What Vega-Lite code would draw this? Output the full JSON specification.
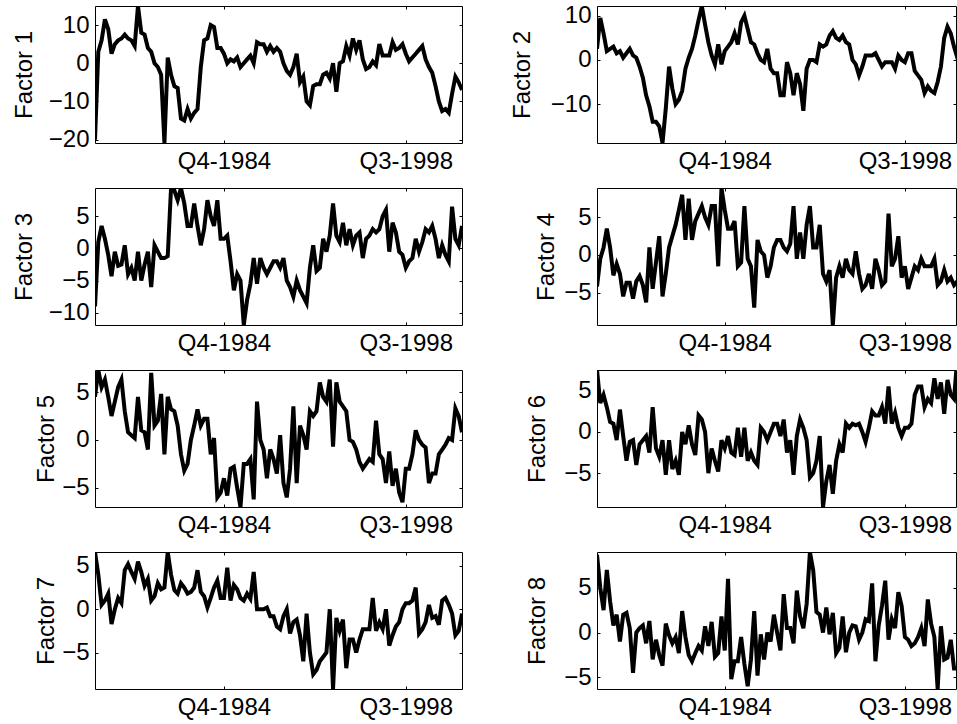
{
"$schema": "https://vega.github.io/schema/vega-lite/v6.json",
"padding": {"left": 11, "top": 3, "right": 0, "bottom": 0},
"background": "white",
"columns": 2,
"spacing": {"row": 45, "column": 135},
"bounds": "flush",
"datasets": {
"f1": [{"t":1,"v":-20},{"t":2,"v":3},{"t":3,"v":6},{"t":4,"v":11.5},{"t":5,"v":9},{"t":6,"v":2.5},{"t":7,"v":5},{"t":8,"v":6},{"t":9,"v":6.5},{"t":10,"v":7.5},{"t":11,"v":6.5},{"t":12,"v":6},{"t":13,"v":4.5},{"t":14,"v":15},{"t":15,"v":8},{"t":16,"v":7.5},{"t":17,"v":4},{"t":18,"v":3},{"t":19,"v":0},{"t":20,"v":-1},{"t":21,"v":-3},{"t":22,"v":-20.9},{"t":23,"v":1.5},{"t":24,"v":-3},{"t":25,"v":-6},{"t":26,"v":-6.5},{"t":27,"v":-14.5},{"t":28,"v":-15},{"t":29,"v":-12},{"t":30,"v":-14.5},{"t":31,"v":-13},{"t":32,"v":-12},{"t":33,"v":-1},{"t":34,"v":6},{"t":35,"v":6.5},{"t":36,"v":10},{"t":37,"v":9.5},{"t":38,"v":4},{"t":39,"v":4},{"t":40,"v":2.5},{"t":41,"v":0},{"t":42,"v":1},{"t":43,"v":0.5},{"t":44,"v":1.5},{"t":45,"v":-1},{"t":46,"v":0},{"t":47,"v":1},{"t":48,"v":2},{"t":49,"v":0},{"t":50,"v":5.5},{"t":51,"v":5},{"t":52,"v":5},{"t":53,"v":3},{"t":54,"v":4.5},{"t":55,"v":3},{"t":56,"v":4},{"t":57,"v":3},{"t":58,"v":0},{"t":59,"v":-2},{"t":60,"v":-3},{"t":61,"v":-1},{"t":62,"v":2.5},{"t":63,"v":-5},{"t":64,"v":-3.5},{"t":65,"v":-10},{"t":66,"v":-11},{"t":67,"v":-6},{"t":68,"v":-5.5},{"t":69,"v":-5.5},{"t":70,"v":-3},{"t":71,"v":-2.5},{"t":72,"v":-4},{"t":73,"v":0},{"t":74,"v":-7.5},{"t":75,"v":0},{"t":76,"v":0.5},{"t":77,"v":4.5},{"t":78,"v":2},{"t":79,"v":6.5},{"t":80,"v":3.5},{"t":81,"v":6},{"t":82,"v":1},{"t":83,"v":-1.5},{"t":84,"v":-1},{"t":85,"v":0.5},{"t":86,"v":-0.5},{"t":87,"v":5},{"t":88,"v":2},{"t":89,"v":2},{"t":90,"v":2},{"t":91,"v":5.5},{"t":92,"v":3.5},{"t":93,"v":4},{"t":94,"v":5},{"t":95,"v":2.5},{"t":96,"v":0.5},{"t":97,"v":1.5},{"t":98,"v":2.5},{"t":99,"v":3.5},{"t":100,"v":4.5},{"t":101,"v":1},{"t":102,"v":-1},{"t":103,"v":-2.5},{"t":104,"v":-6},{"t":105,"v":-10},{"t":106,"v":-12.5},{"t":107,"v":-12},{"t":108,"v":-13},{"t":109,"v":-8},{"t":110,"v":-3.5},{"t":111,"v":-5},{"t":112,"v":-7}],
"f2": [{"t":1,"v":2.5},{"t":2,"v":9.5},{"t":3,"v":6},{"t":4,"v":2},{"t":5,"v":2.5},{"t":6,"v":3},{"t":7,"v":1.5},{"t":8,"v":2},{"t":9,"v":0.5},{"t":10,"v":1.5},{"t":11,"v":2.5},{"t":12,"v":1},{"t":13,"v":0.5},{"t":14,"v":-1.5},{"t":15,"v":-4},{"t":16,"v":-8},{"t":17,"v":-10.5},{"t":18,"v":-14},{"t":19,"v":-14},{"t":20,"v":-15},{"t":21,"v":-18.8},{"t":22,"v":-11},{"t":23,"v":-1.5},{"t":24,"v":-6.5},{"t":25,"v":-10},{"t":26,"v":-9},{"t":27,"v":-7},{"t":28,"v":-2},{"t":29,"v":0.5},{"t":30,"v":2.5},{"t":31,"v":5.5},{"t":32,"v":9},{"t":33,"v":12.2},{"t":34,"v":8},{"t":35,"v":4},{"t":36,"v":1},{"t":37,"v":-1},{"t":38,"v":3.5},{"t":39,"v":-1},{"t":40,"v":2},{"t":41,"v":3},{"t":42,"v":4},{"t":43,"v":6},{"t":44,"v":3.5},{"t":45,"v":8.5},{"t":46,"v":10},{"t":47,"v":7},{"t":48,"v":4},{"t":49,"v":3.5},{"t":50,"v":1.5},{"t":51,"v":0},{"t":52,"v":-0.5},{"t":53,"v":2.5},{"t":54,"v":-2},{"t":55,"v":-3},{"t":56,"v":-3},{"t":57,"v":-8},{"t":58,"v":-8},{"t":59,"v":-0.5},{"t":60,"v":-3},{"t":61,"v":-8},{"t":62,"v":-3},{"t":63,"v":-5.5},{"t":64,"v":-11.5},{"t":65,"v":-2},{"t":66,"v":0},{"t":67,"v":0},{"t":68,"v":-0.5},{"t":69,"v":3.5},{"t":70,"v":3},{"t":71,"v":3.5},{"t":72,"v":5.5},{"t":73,"v":6.5},{"t":74,"v":5},{"t":75,"v":4.5},{"t":76,"v":5.5},{"t":77,"v":4},{"t":78,"v":3.5},{"t":79,"v":0},{"t":80,"v":-1},{"t":81,"v":-3.5},{"t":82,"v":-1.5},{"t":83,"v":1},{"t":84,"v":1},{"t":85,"v":1},{"t":86,"v":1.5},{"t":87,"v":0},{"t":88,"v":-1.5},{"t":89,"v":-0.5},{"t":90,"v":-0.5},{"t":91,"v":-0.5},{"t":92,"v":-2},{"t":93,"v":1},{"t":94,"v":0},{"t":95,"v":-0.5},{"t":96,"v":1.5},{"t":97,"v":1.5},{"t":98,"v":-2.5},{"t":99,"v":-3.5},{"t":100,"v":-4.5},{"t":101,"v":-7.5},{"t":102,"v":-6},{"t":103,"v":-7},{"t":104,"v":-7.5},{"t":105,"v":-5},{"t":106,"v":-1.5},{"t":107,"v":5},{"t":108,"v":7.5},{"t":109,"v":6},{"t":110,"v":3},{"t":111,"v":0.5},{"t":112,"v":1}],
"f3": [{"t":1,"v":-9},{"t":2,"v":1},{"t":3,"v":3.5},{"t":4,"v":1.5},{"t":5,"v":-1},{"t":6,"v":-4.3},{"t":7,"v":-0.5},{"t":8,"v":-2.7},{"t":9,"v":-2.5},{"t":10,"v":0.5},{"t":11,"v":-4},{"t":12,"v":-3},{"t":13,"v":-5},{"t":14,"v":-0.5},{"t":15,"v":-5},{"t":16,"v":-2.5},{"t":17,"v":-0.5},{"t":18,"v":-6},{"t":19,"v":0.5},{"t":20,"v":-0.5},{"t":21,"v":-1.5},{"t":22,"v":-1.5},{"t":23,"v":-1.2},{"t":24,"v":9.4},{"t":25,"v":9},{"t":26,"v":7.5},{"t":27,"v":9.4},{"t":28,"v":7},{"t":29,"v":3.5},{"t":30,"v":3.5},{"t":31,"v":7},{"t":32,"v":3.5},{"t":33,"v":0.5},{"t":34,"v":3},{"t":35,"v":7.5},{"t":36,"v":5},{"t":37,"v":3.5},{"t":38,"v":7.5},{"t":39,"v":1.5},{"t":40,"v":1.5},{"t":41,"v":2},{"t":42,"v":-2},{"t":43,"v":-6.5},{"t":44,"v":-4},{"t":45,"v":-5},{"t":46,"v":-11.9},{"t":47,"v":-8},{"t":48,"v":-5.5},{"t":49,"v":-1.5},{"t":50,"v":-5.5},{"t":51,"v":-1.5},{"t":52,"v":-3},{"t":53,"v":-4},{"t":54,"v":-3},{"t":55,"v":-2},{"t":56,"v":-2},{"t":57,"v":-3},{"t":58,"v":-1.5},{"t":59,"v":-5},{"t":60,"v":-6},{"t":61,"v":-7.5},{"t":62,"v":-5},{"t":63,"v":-6.5},{"t":64,"v":-7.5},{"t":65,"v":-8.5},{"t":66,"v":-3},{"t":67,"v":0.5},{"t":68,"v":-3.5},{"t":69,"v":-3},{"t":70,"v":1.5},{"t":71,"v":-0.5},{"t":72,"v":2},{"t":73,"v":7},{"t":74,"v":2},{"t":75,"v":1},{"t":76,"v":4},{"t":77,"v":0.5},{"t":78,"v":3},{"t":79,"v":0.5},{"t":80,"v":2},{"t":81,"v":2.5},{"t":82,"v":-1.5},{"t":83,"v":1.5},{"t":84,"v":2},{"t":85,"v":3},{"t":86,"v":2.5},{"t":87,"v":3},{"t":88,"v":5},{"t":89,"v":6},{"t":90,"v":-0.5},{"t":91,"v":4},{"t":92,"v":2.5},{"t":93,"v":-0.5},{"t":94,"v":-1},{"t":95,"v":-3},{"t":96,"v":-2},{"t":97,"v":-1.5},{"t":98,"v":1.5},{"t":99,"v":-0.5},{"t":100,"v":1},{"t":101,"v":3},{"t":102,"v":2.5},{"t":103,"v":3.5},{"t":104,"v":1.5},{"t":105,"v":-1.5},{"t":106,"v":0.5},{"t":107,"v":-1},{"t":108,"v":-2},{"t":109,"v":6.5},{"t":110,"v":1.5},{"t":111,"v":0.5},{"t":112,"v":3.5}],
"f4": [{"t":1,"v":-4.2},{"t":2,"v":-0.5},{"t":3,"v":1},{"t":4,"v":3.5},{"t":5,"v":1},{"t":6,"v":-2.7},{"t":7,"v":-1.2},{"t":8,"v":-2.5},{"t":9,"v":-5.5},{"t":10,"v":-3.7},{"t":11,"v":-3.7},{"t":12,"v":-5.8},{"t":13,"v":-3.5},{"t":14,"v":-2.8},{"t":15,"v":-4},{"t":16,"v":-6.3},{"t":17,"v":1},{"t":18,"v":-4.5},{"t":19,"v":-1},{"t":20,"v":2.5},{"t":21,"v":-5.5},{"t":22,"v":-2.5},{"t":23,"v":1},{"t":24,"v":2.5},{"t":25,"v":4},{"t":26,"v":6},{"t":27,"v":8},{"t":28,"v":2},{"t":29,"v":7.5},{"t":30,"v":2},{"t":31,"v":4.5},{"t":32,"v":5.5},{"t":33,"v":6.5},{"t":34,"v":5},{"t":35,"v":4},{"t":36,"v":6.5},{"t":37,"v":6.5},{"t":38,"v":-1.5},{"t":39,"v":8.9},{"t":40,"v":6},{"t":41,"v":3.5},{"t":42,"v":3.5},{"t":43,"v":4.5},{"t":44,"v":-1.5},{"t":45,"v":-1},{"t":46,"v":6.5},{"t":47,"v":-0.5},{"t":48,"v":-1.5},{"t":49,"v":-7},{"t":50,"v":2},{"t":51,"v":0.5},{"t":52,"v":0},{"t":53,"v":-3},{"t":54,"v":-1.5},{"t":55,"v":1},{"t":56,"v":2},{"t":57,"v":2},{"t":58,"v":1},{"t":59,"v":0.5},{"t":60,"v":1.5},{"t":61,"v":6.5},{"t":62,"v":-0.5},{"t":63,"v":3},{"t":64,"v":-0.5},{"t":65,"v":4},{"t":66,"v":6.5},{"t":67,"v":1},{"t":68,"v":1},{"t":69,"v":4},{"t":70,"v":-2.5},{"t":71,"v":-3.5},{"t":72,"v":-2},{"t":73,"v":-9.3},{"t":74,"v":-3},{"t":75,"v":-1.5},{"t":76,"v":-3},{"t":77,"v":-0.5},{"t":78,"v":-2},{"t":79,"v":-2.5},{"t":80,"v":0.5},{"t":81,"v":-2.5},{"t":82,"v":-4.5},{"t":83,"v":-4},{"t":84,"v":-2.5},{"t":85,"v":-4.5},{"t":86,"v":-0.5},{"t":87,"v":-2},{"t":88,"v":-4},{"t":89,"v":-3.5},{"t":90,"v":5.5},{"t":91,"v":-1.5},{"t":92,"v":-0.5},{"t":93,"v":2.5},{"t":94,"v":-3},{"t":95,"v":-1.5},{"t":96,"v":-4.5},{"t":97,"v":-3},{"t":98,"v":-1.5},{"t":99,"v":-2},{"t":100,"v":-0.5},{"t":101,"v":-1.5},{"t":102,"v":-1.5},{"t":103,"v":-1.5},{"t":104,"v":-0.5},{"t":105,"v":-4},{"t":106,"v":-3.5},{"t":107,"v":-2},{"t":108,"v":-3.5},{"t":109,"v":-3},{"t":110,"v":-4},{"t":111,"v":-3.5},{"t":112,"v":-3}],
"f5": [{"t":1,"v":4.5},{"t":2,"v":7.3},{"t":3,"v":5.5},{"t":4,"v":6.3},{"t":5,"v":4.5},{"t":6,"v":2.5},{"t":7,"v":4},{"t":8,"v":5.5},{"t":9,"v":6.3},{"t":10,"v":3},{"t":11,"v":0.8},{"t":12,"v":0.5},{"t":13,"v":0.2},{"t":14,"v":4.5},{"t":15,"v":1},{"t":16,"v":0.8},{"t":17,"v":-1},{"t":18,"v":7},{"t":19,"v":1.5},{"t":20,"v":2},{"t":21,"v":4.8},{"t":22,"v":-1.5},{"t":23,"v":4.5},{"t":24,"v":3.2},{"t":25,"v":3},{"t":26,"v":1.5},{"t":27,"v":-1.5},{"t":28,"v":-3.2},{"t":29,"v":-2.5},{"t":30,"v":0},{"t":31,"v":1.5},{"t":32,"v":3.2},{"t":33,"v":1.5},{"t":34,"v":2.2},{"t":35,"v":2.2},{"t":36,"v":-1.5},{"t":37,"v":0.2},{"t":38,"v":-6},{"t":39,"v":-5.5},{"t":40,"v":-4},{"t":41,"v":-5.8},{"t":42,"v":-3},{"t":43,"v":-2.8},{"t":44,"v":-5},{"t":45,"v":-7},{"t":46,"v":-2.5},{"t":47,"v":-2.5},{"t":48,"v":-2},{"t":49,"v":-6.2},{"t":50,"v":4},{"t":51,"v":0},{"t":52,"v":-1},{"t":53,"v":-4},{"t":54,"v":-1},{"t":55,"v":-2},{"t":56,"v":-3.5},{"t":57,"v":0.5},{"t":58,"v":-4.5},{"t":59,"v":-6},{"t":60,"v":-3},{"t":61,"v":3.5},{"t":62,"v":-4.5},{"t":63,"v":1.5},{"t":64,"v":0.5},{"t":65,"v":-1},{"t":66,"v":3},{"t":67,"v":2.5},{"t":68,"v":3},{"t":69,"v":6},{"t":70,"v":4.5},{"t":71,"v":4},{"t":72,"v":6.3},{"t":73,"v":-0.7},{"t":74,"v":6},{"t":75,"v":4},{"t":76,"v":3.5},{"t":77,"v":3},{"t":78,"v":0},{"t":79,"v":-0.2},{"t":80,"v":-1},{"t":81,"v":-2.3},{"t":82,"v":-3},{"t":83,"v":-2.5},{"t":84,"v":-2},{"t":85,"v":-2.3},{"t":86,"v":2},{"t":87,"v":-1.5},{"t":88,"v":-2},{"t":89,"v":-4.5},{"t":90,"v":-1.2},{"t":91,"v":-4.8},{"t":92,"v":-3},{"t":93,"v":-5.5},{"t":94,"v":-6.5},{"t":95,"v":-3},{"t":96,"v":-3},{"t":97,"v":-1.5},{"t":98,"v":1},{"t":99,"v":0},{"t":100,"v":-0.5},{"t":101,"v":-0.8},{"t":102,"v":-4.5},{"t":103,"v":-3.5},{"t":104,"v":-3.5},{"t":105,"v":-1.5},{"t":106,"v":-1},{"t":107,"v":-0.5},{"t":108,"v":0.2},{"t":109,"v":0},{"t":110,"v":3.3},{"t":111,"v":2.5},{"t":112,"v":0.8}],
"f6": [{"t":1,"v":7.5},{"t":2,"v":3.5},{"t":3,"v":4.5},{"t":4,"v":3},{"t":5,"v":1.2},{"t":6,"v":1},{"t":7,"v":-1},{"t":8,"v":2.7},{"t":9,"v":-0.5},{"t":10,"v":-3.5},{"t":11,"v":-1.2},{"t":12,"v":-1},{"t":13,"v":-4},{"t":14,"v":-1.5},{"t":15,"v":-1},{"t":16,"v":-0.5},{"t":17,"v":-2.5},{"t":18,"v":3},{"t":19,"v":-2},{"t":20,"v":-3},{"t":21,"v":-1},{"t":22,"v":-5.2},{"t":23,"v":-1},{"t":24,"v":-4.5},{"t":25,"v":-3.5},{"t":26,"v":-5.2},{"t":27,"v":0},{"t":28,"v":-1.5},{"t":29,"v":0.8},{"t":30,"v":-1.5},{"t":31,"v":-2.8},{"t":32,"v":2},{"t":33,"v":1.5},{"t":34,"v":0},{"t":35,"v":-5},{"t":36,"v":-2},{"t":37,"v":-3.5},{"t":38,"v":-4.8},{"t":39,"v":-1},{"t":40,"v":-2},{"t":41,"v":-0.5},{"t":42,"v":-2.5},{"t":43,"v":-2.8},{"t":44,"v":0.5},{"t":45,"v":-3},{"t":46,"v":0.5},{"t":47,"v":-3.5},{"t":48,"v":-2.5},{"t":49,"v":-3.5},{"t":50,"v":-4},{"t":51,"v":0.5},{"t":52,"v":0},{"t":53,"v":-1},{"t":54,"v":0},{"t":55,"v":1},{"t":56,"v":1},{"t":57,"v":-0.5},{"t":58,"v":1.5},{"t":59,"v":-2.5},{"t":60,"v":-1},{"t":61,"v":-5.2},{"t":62,"v":-0.5},{"t":63,"v":1.5},{"t":64,"v":0.5},{"t":65,"v":-1},{"t":66,"v":-5.5},{"t":67,"v":-5},{"t":68,"v":-3.5},{"t":69,"v":-0.5},{"t":70,"v":-9.1},{"t":71,"v":-6},{"t":72,"v":-4},{"t":73,"v":-7.5},{"t":74,"v":-3.5},{"t":75,"v":-1.5},{"t":76,"v":-2.5},{"t":77,"v":1},{"t":78,"v":0.5},{"t":79,"v":1},{"t":80,"v":0.8},{"t":81,"v":1},{"t":82,"v":0},{"t":83,"v":-1.2},{"t":84,"v":0.5},{"t":85,"v":2.5},{"t":86,"v":2},{"t":87,"v":2},{"t":88,"v":3},{"t":89,"v":1},{"t":90,"v":5.5},{"t":91,"v":1},{"t":92,"v":2.3},{"t":93,"v":0.5},{"t":94,"v":-0.5},{"t":95,"v":0.5},{"t":96,"v":0.5},{"t":97,"v":1},{"t":98,"v":4.5},{"t":99,"v":5.5},{"t":100,"v":5.5},{"t":101,"v":3},{"t":102,"v":4},{"t":103,"v":3.5},{"t":104,"v":6.5},{"t":105,"v":4},{"t":106,"v":6},{"t":107,"v":2.2},{"t":108,"v":6.3},{"t":109,"v":4.5},{"t":110,"v":4},{"t":111,"v":9},{"t":112,"v":8}],
"f7": [{"t":1,"v":6.6},{"t":2,"v":4},{"t":3,"v":0.5},{"t":4,"v":1},{"t":5,"v":1.8},{"t":6,"v":-1.7},{"t":7,"v":0},{"t":8,"v":1.3},{"t":9,"v":0.7},{"t":10,"v":4.5},{"t":11,"v":5.2},{"t":12,"v":4.3},{"t":13,"v":3.5},{"t":14,"v":5.5},{"t":15,"v":4.3},{"t":16,"v":2.7},{"t":17,"v":3.5},{"t":18,"v":1},{"t":19,"v":1.5},{"t":20,"v":3},{"t":21,"v":2.3},{"t":22,"v":2.5},{"t":23,"v":6.6},{"t":24,"v":4},{"t":25,"v":2.2},{"t":26,"v":1.8},{"t":27,"v":3},{"t":28,"v":2.5},{"t":29,"v":1.8},{"t":30,"v":2},{"t":31,"v":2.5},{"t":32,"v":4.5},{"t":33,"v":2},{"t":34,"v":1.5},{"t":35,"v":0.2},{"t":36,"v":1.3},{"t":37,"v":2.5},{"t":38,"v":3.3},{"t":39,"v":1.3},{"t":40,"v":1.3},{"t":41,"v":4.8},{"t":42,"v":1},{"t":43,"v":2.8},{"t":44,"v":2.3},{"t":45,"v":1.3},{"t":46,"v":1},{"t":47,"v":1.8},{"t":48,"v":1.2},{"t":49,"v":4.3},{"t":50,"v":0},{"t":51,"v":0},{"t":52,"v":0},{"t":53,"v":0.2},{"t":54,"v":-0.8},{"t":55,"v":-0.8},{"t":56,"v":-2},{"t":57,"v":-2.3},{"t":58,"v":-0.8},{"t":59,"v":0},{"t":60,"v":-2.8},{"t":61,"v":-1.5},{"t":62,"v":-1.2},{"t":63,"v":-3},{"t":64,"v":-6},{"t":65,"v":-0.5},{"t":66,"v":-5},{"t":67,"v":-7.5},{"t":68,"v":-7},{"t":69,"v":-6},{"t":70,"v":-5.5},{"t":71,"v":-5},{"t":72,"v":0},{"t":73,"v":-9.2},{"t":74,"v":-1},{"t":75,"v":-2.5},{"t":76,"v":-1.2},{"t":77,"v":-6.8},{"t":78,"v":-3.5},{"t":79,"v":-3.5},{"t":80,"v":-5},{"t":81,"v":-3.5},{"t":82,"v":-2.3},{"t":83,"v":-2.3},{"t":84,"v":-2.3},{"t":85,"v":1.3},{"t":86,"v":-2.5},{"t":87,"v":-1.5},{"t":88,"v":-2.3},{"t":89,"v":0},{"t":90,"v":-4.2},{"t":91,"v":-3},{"t":92,"v":-2},{"t":93,"v":-1.5},{"t":94,"v":0},{"t":95,"v":0.7},{"t":96,"v":0.7},{"t":97,"v":1},{"t":98,"v":2.5},{"t":99,"v":-2.8},{"t":100,"v":-2.3},{"t":101,"v":-1.5},{"t":102,"v":0.5},{"t":103,"v":-1},{"t":104,"v":-0.8},{"t":105,"v":-1.8},{"t":106,"v":1},{"t":107,"v":1.3},{"t":108,"v":0.5},{"t":109,"v":-0.5},{"t":110,"v":-3},{"t":111,"v":-2.5},{"t":112,"v":-0.5}],
"f8": [{"t":1,"v":8.7},{"t":2,"v":5},{"t":3,"v":2.5},{"t":4,"v":7},{"t":5,"v":3.5},{"t":6,"v":0.8},{"t":7,"v":2},{"t":8,"v":-1},{"t":9,"v":2},{"t":10,"v":2.2},{"t":11,"v":0.5},{"t":12,"v":-4.5},{"t":13,"v":0},{"t":14,"v":0.5},{"t":15,"v":0.8},{"t":16,"v":-1.2},{"t":17,"v":1.3},{"t":18,"v":-3},{"t":19,"v":-0.8},{"t":20,"v":-2.5},{"t":21,"v":-3.7},{"t":22,"v":1},{"t":23,"v":-0.3},{"t":24,"v":-1.2},{"t":25,"v":-0.5},{"t":26,"v":-2.3},{"t":27,"v":2.4},{"t":28,"v":-0.5},{"t":29,"v":-2.5},{"t":30,"v":-3.2},{"t":31,"v":-2.3},{"t":32,"v":-1.5},{"t":33,"v":-2},{"t":34,"v":0.7},{"t":35,"v":-1.5},{"t":36,"v":1.2},{"t":37,"v":-2.7},{"t":38,"v":-2.3},{"t":39,"v":1.8},{"t":40,"v":-2},{"t":41,"v":6},{"t":42,"v":-5.2},{"t":43,"v":-3.2},{"t":44,"v":-3.2},{"t":45,"v":-0.5},{"t":46,"v":-3.5},{"t":47,"v":-6},{"t":48,"v":-3},{"t":49,"v":2.4},{"t":50,"v":-4.8},{"t":51,"v":-0.2},{"t":52,"v":-3},{"t":53,"v":0},{"t":54,"v":-1},{"t":55,"v":2},{"t":56,"v":0},{"t":57,"v":-2},{"t":58,"v":4.3},{"t":59,"v":0.5},{"t":60,"v":0.5},{"t":61,"v":-1.2},{"t":62,"v":4.7},{"t":63,"v":1.8},{"t":64,"v":0.5},{"t":65,"v":3.2},{"t":66,"v":9},{"t":67,"v":7},{"t":68,"v":2.3},{"t":69,"v":2},{"t":70,"v":0},{"t":71,"v":2.8},{"t":72,"v":-0.2},{"t":73,"v":2.2},{"t":74,"v":-2.3},{"t":75,"v":-1.7},{"t":76,"v":1.8},{"t":77,"v":-2.2},{"t":78,"v":0},{"t":79,"v":0.8},{"t":80,"v":0.7},{"t":81,"v":-0.8},{"t":82,"v":0},{"t":83,"v":1.5},{"t":84,"v":1.3},{"t":85,"v":5.5},{"t":86,"v":-3.2},{"t":87,"v":0.8},{"t":88,"v":3},{"t":89,"v":5.8},{"t":90,"v":-0.8},{"t":91,"v":1.5},{"t":92,"v":0.5},{"t":93,"v":4.5},{"t":94,"v":3},{"t":95,"v":-0.5},{"t":96,"v":-0.8},{"t":97,"v":-1.5},{"t":98,"v":-1.2},{"t":99,"v":-0.5},{"t":100,"v":0.5},{"t":101,"v":-1.5},{"t":102,"v":3.7},{"t":103,"v":1},{"t":104,"v":-0.5},{"t":105,"v":-6.3},{"t":106,"v":0.7},{"t":107,"v":-3},{"t":108,"v":-2.8},{"t":109,"v":-0.8},{"t":110,"v":-4},{"t":111,"v":-4},{"t":112,"v":-3.5}]
},
"concat": [
{"data": {"name": "f1"}, "width": 367, "height": 137, "resolve": {"axis": {"x": "independent", "y": "independent"}},
 "layer": [
 {"mark": {"type": "line", "color": "black", "strokeWidth": 4, "clip": true},
  "encoding": {
   "x": {"field": "t", "type": "quantitative", "scale": {"domain": [1, 112], "nice": false, "zero": false}, "axis": {"values": [40, 95], "labelExpr": "datum.value == 40 ? 'Q4-1984' : 'Q3-1998'", "title": null}},
   "y": {"field": "v", "type": "quantitative", "scale": {"domain": [-20.9, 15], "nice": false, "zero": false}, "axis": {"values": [-20, -10, 0, 10], "title": "Factor 1", "titlePadding": 12}}}},
 {"mark": {"type": "line", "strokeOpacity": 0, "clip": true},
  "encoding": {
   "x": {"field": "t", "type": "quantitative", "axis": {"orient": "top", "values": [40, 95], "labels": false, "title": null}},
   "y": {"field": "v", "type": "quantitative", "axis": {"orient": "right", "values": [-20, -10, 0, 10], "labels": false, "title": null}}}}
 ]},
{"data": {"name": "f2"}, "width": 359, "height": 137, "resolve": {"axis": {"x": "independent", "y": "independent"}},
 "layer": [
 {"mark": {"type": "line", "color": "black", "strokeWidth": 4, "clip": true},
  "encoding": {
   "x": {"field": "t", "type": "quantitative", "scale": {"domain": [1, 110.6], "nice": false, "zero": false}, "axis": {"values": [40, 95], "labelExpr": "datum.value == 40 ? 'Q4-1984' : 'Q3-1998'", "title": null}},
   "y": {"field": "v", "type": "quantitative", "scale": {"domain": [-18.8, 12.2], "nice": false, "zero": false}, "axis": {"values": [-10, 0, 10], "title": "Factor 2", "titlePadding": 16}}}},
 {"mark": {"type": "line", "strokeOpacity": 0, "clip": true},
  "encoding": {
   "x": {"field": "t", "type": "quantitative", "axis": {"orient": "top", "values": [40, 95], "labels": false, "title": null}},
   "y": {"field": "v", "type": "quantitative", "axis": {"orient": "right", "values": [-10, 0, 10], "labels": false, "title": null}}}}
 ]},
{"data": {"name": "f3"}, "width": 367, "height": 137, "resolve": {"axis": {"x": "independent", "y": "independent"}},
 "layer": [
 {"mark": {"type": "line", "color": "black", "strokeWidth": 4, "clip": true},
  "encoding": {
   "x": {"field": "t", "type": "quantitative", "scale": {"domain": [1, 112], "nice": false, "zero": false}, "axis": {"values": [40, 95], "labelExpr": "datum.value == 40 ? 'Q4-1984' : 'Q3-1998'", "title": null}},
   "y": {"field": "v", "type": "quantitative", "scale": {"domain": [-11.9, 9.4], "nice": false, "zero": false}, "axis": {"values": [-10, -5, 0, 5], "title": "Factor 3", "titlePadding": 12}}}},
 {"mark": {"type": "line", "strokeOpacity": 0, "clip": true},
  "encoding": {
   "x": {"field": "t", "type": "quantitative", "axis": {"orient": "top", "values": [40, 95], "labels": false, "title": null}},
   "y": {"field": "v", "type": "quantitative", "axis": {"orient": "right", "values": [-10, -5, 0, 5], "labels": false, "title": null}}}}
 ]},
{"data": {"name": "f4"}, "width": 359, "height": 137, "resolve": {"axis": {"x": "independent", "y": "independent"}},
 "layer": [
 {"mark": {"type": "line", "color": "black", "strokeWidth": 4, "clip": true},
  "encoding": {
   "x": {"field": "t", "type": "quantitative", "scale": {"domain": [1, 110.6], "nice": false, "zero": false}, "axis": {"values": [40, 95], "labelExpr": "datum.value == 40 ? 'Q4-1984' : 'Q3-1998'", "title": null}},
   "y": {"field": "v", "type": "quantitative", "scale": {"domain": [-9.3, 8.9], "nice": false, "zero": false}, "axis": {"values": [-5, 0, 5], "title": "Factor 4", "titlePadding": 5}}}},
 {"mark": {"type": "line", "strokeOpacity": 0, "clip": true},
  "encoding": {
   "x": {"field": "t", "type": "quantitative", "axis": {"orient": "top", "values": [40, 95], "labels": false, "title": null}},
   "y": {"field": "v", "type": "quantitative", "axis": {"orient": "right", "values": [-5, 0, 5], "labels": false, "title": null}}}}
 ]},
{"data": {"name": "f5"}, "width": 367, "height": 137, "resolve": {"axis": {"x": "independent", "y": "independent"}},
 "layer": [
 {"mark": {"type": "line", "color": "black", "strokeWidth": 4, "clip": true},
  "encoding": {
   "x": {"field": "t", "type": "quantitative", "scale": {"domain": [1, 112], "nice": false, "zero": false}, "axis": {"values": [40, 95], "labelExpr": "datum.value == 40 ? 'Q4-1984' : 'Q3-1998'", "title": null}},
   "y": {"field": "v", "type": "quantitative", "scale": {"domain": [-7, 7.3], "nice": false, "zero": false}, "axis": {"values": [-5, 0, 5], "title": "Factor 5", "titlePadding": 3}}}},
 {"mark": {"type": "line", "strokeOpacity": 0, "clip": true},
  "encoding": {
   "x": {"field": "t", "type": "quantitative", "axis": {"orient": "top", "values": [40, 95], "labels": false, "title": null}},
   "y": {"field": "v", "type": "quantitative", "axis": {"orient": "right", "values": [-5, 0, 5], "labels": false, "title": null}}}}
 ]},
{"data": {"name": "f6"}, "width": 359, "height": 137, "resolve": {"axis": {"x": "independent", "y": "independent"}},
 "layer": [
 {"mark": {"type": "line", "color": "black", "strokeWidth": 4, "clip": true},
  "encoding": {
   "x": {"field": "t", "type": "quantitative", "scale": {"domain": [1, 110.6], "nice": false, "zero": false}, "axis": {"values": [40, 95], "labelExpr": "datum.value == 40 ? 'Q4-1984' : 'Q3-1998'", "title": null}},
   "y": {"field": "v", "type": "quantitative", "scale": {"domain": [-9.1, 7.5], "nice": false, "zero": false}, "axis": {"values": [-5, 0, 5], "title": "Factor 6", "titlePadding": 14}}}},
 {"mark": {"type": "line", "strokeOpacity": 0, "clip": true},
  "encoding": {
   "x": {"field": "t", "type": "quantitative", "axis": {"orient": "top", "values": [40, 95], "labels": false, "title": null}},
   "y": {"field": "v", "type": "quantitative", "axis": {"orient": "right", "values": [-5, 0, 5], "labels": false, "title": null}}}}
 ]},
{"data": {"name": "f7"}, "width": 367, "height": 137, "resolve": {"axis": {"x": "independent", "y": "independent"}},
 "layer": [
 {"mark": {"type": "line", "color": "black", "strokeWidth": 4, "clip": true},
  "encoding": {
   "x": {"field": "t", "type": "quantitative", "scale": {"domain": [1, 112], "nice": false, "zero": false}, "axis": {"values": [40, 95], "labelExpr": "datum.value == 40 ? 'Q4-1984' : 'Q3-1998'", "title": null}},
   "y": {"field": "v", "type": "quantitative", "scale": {"domain": [-9.2, 6.6], "nice": false, "zero": false}, "axis": {"values": [-5, 0, 5], "title": "Factor 7", "titlePadding": 3}}}},
 {"mark": {"type": "line", "strokeOpacity": 0, "clip": true},
  "encoding": {
   "x": {"field": "t", "type": "quantitative", "axis": {"orient": "top", "values": [40, 95], "labels": false, "title": null}},
   "y": {"field": "v", "type": "quantitative", "axis": {"orient": "right", "values": [-5, 0, 5], "labels": false, "title": null}}}}
 ]},
{"data": {"name": "f8"}, "width": 359, "height": 137, "resolve": {"axis": {"x": "independent", "y": "independent"}},
 "layer": [
 {"mark": {"type": "line", "color": "black", "strokeWidth": 4, "clip": true},
  "encoding": {
   "x": {"field": "t", "type": "quantitative", "scale": {"domain": [1, 110.6], "nice": false, "zero": false}, "axis": {"values": [40, 95], "labelExpr": "datum.value == 40 ? 'Q4-1984' : 'Q3-1998'", "title": null}},
   "y": {"field": "v", "type": "quantitative", "scale": {"domain": [-6.3, 9], "nice": false, "zero": false}, "axis": {"values": [-5, 0, 5], "title": "Factor 8", "titlePadding": 14}}}},
 {"mark": {"type": "line", "strokeOpacity": 0, "clip": true},
  "encoding": {
   "x": {"field": "t", "type": "quantitative", "axis": {"orient": "top", "values": [40, 95], "labels": false, "title": null}},
   "y": {"field": "v", "type": "quantitative", "axis": {"orient": "right", "values": [-5, 0, 5], "labels": false, "title": null}}}}
 ]}
],
"config": {
 "font": "Liberation Sans",
 "view": {"stroke": "black", "strokeWidth": 1},
 "axis": {"domain": false, "grid": false, "ticks": true, "tickColor": "black", "tickSize": -3, "tickWidth": 1,
  "labelFont": "Liberation Sans", "labelFontSize": 24, "labelColor": "black", "labelPadding": 9,
  "titleFont": "Liberation Sans", "titleFontSize": 24, "titleFontWeight": "normal", "titleColor": "black", "titlePadding": 12}
}
}
